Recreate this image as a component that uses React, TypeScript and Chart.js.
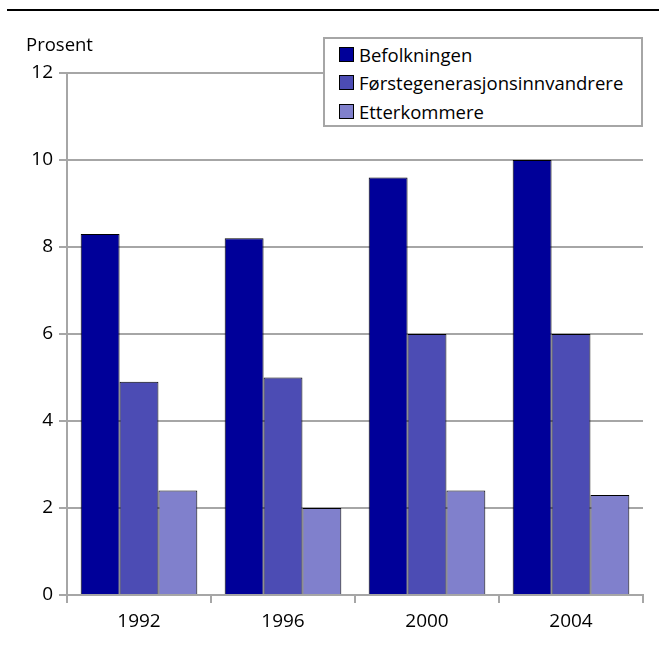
import React, { useEffect, useRef } from "react";
import { Chart, registerables } from "chart.js";
Chart.register(...registerables);

const categories = ["1992", "1996", "2000", "2004"];
const befolkningen = [8.3, 8.2, 9.6, 10.0];
const forstegenerasjon = [4.9, 5.0, 6.0, 6.0];
const etterkommere = [2.4, 2.0, 2.4, 2.3];
const seriesNames = ["Befolkningen", "Førstegenerasjonsinnvandrere", "Etterkommere"];
const seriesColors = ["#000099", "#4C4CB4", "#8080CC"];
const yTicks = [0, 2, 4, 6, 8, 10, 12];
const yTitle = "Prosent";

const FONT = "'Open Sans', sans-serif";
const FS = 18.5;
const TFS = 19;
const GRID = "#a6a6a6";

export default function App() {
  const ref = useRef<HTMLCanvasElement>(null);
  useEffect(() => {
    document.body.style.margin = "0";
    const ctx = ref.current!;
    const titlePlugin = {
      id: "ytitle",
      afterDraw(chart: any) {
        const c = chart.ctx;
        c.save();
        c.fillStyle = "#000";
        c.font = `${FS}px ${FONT}`;
        c.textBaseline = "middle";
        c.textAlign = "left";
        c.fillText(yTitle, 26, 46);
        c.restore();
      },
    };
    const chart = new Chart(ctx, {
      type: "bar",
      data: {
        labels: categories,
        datasets: [befolkningen, forstegenerasjon, etterkommere].map((d, i) => ({
          label: seriesNames[i],
          data: d,
          backgroundColor: seriesColors[i],
          borderColor: "#000",
          borderWidth: 1,
          categoryPercentage: 0.81,
          barPercentage: 1.0,
        })),
      },
      options: {
        animation: false,
        responsive: false,
        maintainAspectRatio: false,
        layout: { padding: { left: 0, right: 16, top: 73, bottom: 0 } },
        plugins: { legend: { display: false }, tooltip: { enabled: false } },
        scales: {
          x: {
            grid: { display: true, drawOnChartArea: false, color: GRID, lineWidth: 2, tickLength: 8, offset: true },
            border: { color: GRID, width: 2 },
            ticks: { color: "#000", font: { family: FONT, size: TFS }, padding: 7 },
            afterFit(s: any) { s.height = 56; },
          },
          y: {
            min: 0,
            max: 12,
            afterBuildTicks(s: any) { s.ticks = yTicks.map((v) => ({ value: v })); },
            grid: { color: GRID, lineWidth: 2, tickLength: 8 },
            border: { color: GRID, width: 2 },
            ticks: { color: "#000", font: { family: FONT, size: TFS }, padding: 6 },
            afterFit(s: any) { s.width = 67; },
          },
        },
      },
      plugins: [titlePlugin],
    });
    return () => chart.destroy();
  }, []);

  return (
    <div style={{ position: "relative", width: 659, height: 651, background: "#fff" }}>
      <div style={{ position: "absolute", left: 7, top: 9, width: 652, height: 0, borderTop: "2.5px solid #000" }} />
      <canvas ref={ref} width={659} height={651} style={{ position: "absolute", left: 0, top: 0 }} />
      <div
        style={{
          position: "absolute",
          left: 323,
          top: 37,
          width: 316,
          height: 86,
          border: "2px solid #a6a6a6",
          background: "#fff",
          fontFamily: FONT,
          fontSize: FS,
          color: "#000",
          boxSizing: "content-box",
        }}
      >
        {seriesNames.map((n, i) => (
          <div key={n} style={{ display: "flex", alignItems: "center", height: 28.5, marginLeft: 14, marginTop: i === 0 ? 1 : 0, whiteSpace: "nowrap" }}>
            <span style={{ display: "inline-block", width: 13, height: 13, background: seriesColors[i], border: "1px solid #000", marginRight: 5, flex: "none" }} />
            <span>{n}</span>
          </div>
        ))}
      </div>
    </div>
  );
}
